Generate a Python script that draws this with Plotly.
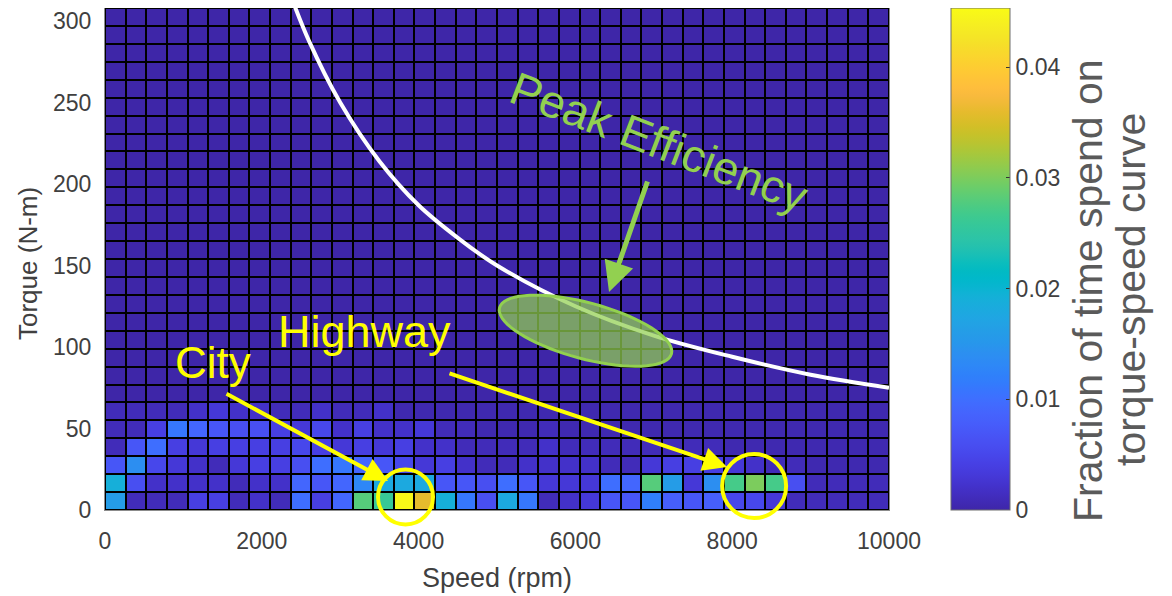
import numpy as np
import plotly.graph_objects as go

# ---------------- data ----------------
speed_edges = np.linspace(0, 10000, 39)      # 38 speed bins (rpm)
torque_edges = np.arange(0, 309, 11)         # 28 torque bins (N-m)

# fraction of time per cell, bottom rows (0-11, 11-22, ... N-m)
row0 = [0.016, 0.001, 0.001, 0.001, 0.004, 0.004, 0.001, 0.002, 0.001, 0.010,
        0.004, 0.009, 0.028, 0.026, 0.045, 0.036, 0.019, 0.011, 0.006, 0.018,
        0.011, 0.001, 0.002, 0.003, 0.007, 0.007, 0.012, 0.008, 0.007, 0.008,
        0.005, 0.005, 0.003, 0.001, 0.001, 0.001, 0.001, 0.001]
row1 = [0.019, 0.006, 0.002, 0.002, 0.002, 0.002, 0.001, 0.002, 0.002, 0.009,
        0.007, 0.009, 0.013, 0.018, 0.018, 0.018, 0.007, 0.007, 0.006, 0.010,
        0.007, 0.003, 0.003, 0.003, 0.010, 0.009, 0.028, 0.016, 0.003, 0.014,
        0.027, 0.030, 0.027, 0.006, 0.001, 0.001, 0.001, 0.001]
row2 = [0.007, 0.014, 0.005, 0.003, 0.002, 0.001, 0.003, 0.004, 0.004, 0.006,
        0.010, 0.011, 0.009, 0.007, 0.005, 0.003, 0.004, 0.002, 0.001, 0.001,
        0.002, 0.002, 0.002, 0.002, 0.001, 0.001, 0.003, 0.004, 0.004, 0.004,
        0.003, 0.002, 0.001, 0.001, 0.0005, 0.0005, 0.0005, 0.0005]
row3 = [0.001, 0.007, 0.010, 0.004, 0.003, 0.004, 0.004, 0.004, 0.004, 0.005,
        0.004, 0.003, 0.004, 0.003, 0.004, 0.002, 0.002, 0.001, 0.001, 0.001,
        0.001, 0.002, 0.001, 0.001, 0.001, 0.001, 0.001, 0.001, 0.001, 0.001,
        0.0005, 0.0005, 0.0005, 0.0005, 0.0005, 0.0005, 0.0005, 0.0005]
row4 = [0.001, 0.001, 0.004, 0.011, 0.009, 0.007, 0.006, 0.006, 0.004, 0.003,
        0.005, 0.002, 0.004, 0.002, 0.002, 0.003, 0.001, 0.001, 0.0005, 0.0005,
        0.0005, 0.001, 0.0005, 0.0005, 0.0005, 0.0005, 0.0005, 0.0005, 0.0005, 0.0005,
        0.0005, 0.0005, 0.0005, 0.0005, 0.0005, 0.0005, 0.0005, 0.0005]
row5 = [0.001, 0.001, 0.001, 0.001, 0.002, 0.003, 0.002, 0.002, 0.001, 0.001,
        0.002, 0.001, 0.001, 0.002, 0.0005, 0.0005, 0.0005, 0.0005, 0.0005, 0.0005,
        0.0005, 0.0005, 0.0005, 0.0005, 0.0005, 0.0005, 0.0005, 0.0005, 0.0005, 0.0005,
        0.0005, 0.0005, 0.0005, 0.0005, 0.0005, 0.0005, 0.0005, 0.0005]
upper_rows = [[0.0] * 38 for _ in range(22)]   # 66-308 N-m: essentially zero

# torque-speed limit curve
curve_speed = [2350, 2600, 3000, 3500, 4000, 4500, 5000, 6000, 7000, 8000, 9000, 10000]
curve_torque = [318, 288, 250, 214, 187, 167, 150, 125, 107, 94, 83, 75]

cb_ticks = [0, 0.01, 0.02, 0.03, 0.04]
cb_ticktext = ["0", "0.01", "0.02", "0.03", "0.04"]
x_ticks = [0, 2000, 4000, 6000, 8000, 10000]
y_ticks = [0, 50, 100, 150, 200, 250, 300]

# ---------------- style ----------------
parula = [
    (0.2422, 0.1504, 0.6603), (0.2504, 0.1650, 0.7076), (0.2578, 0.1818, 0.7511), (0.2647, 0.1978, 0.7952),
    (0.2706, 0.2147, 0.8364), (0.2751, 0.2342, 0.8710), (0.2783, 0.2559, 0.8991), (0.2803, 0.2782, 0.9221),
    (0.2813, 0.3006, 0.9414), (0.2810, 0.3228, 0.9579), (0.2795, 0.3447, 0.9717), (0.2760, 0.3667, 0.9829),
    (0.2699, 0.3892, 0.9906), (0.2602, 0.4123, 0.9952), (0.2440, 0.4358, 0.9988), (0.2206, 0.4603, 0.9973),
    (0.1963, 0.4847, 0.9892), (0.1834, 0.5074, 0.9798), (0.1786, 0.5289, 0.9682), (0.1764, 0.5499, 0.9520),
    (0.1687, 0.5703, 0.9359), (0.1540, 0.5902, 0.9218), (0.1460, 0.6091, 0.9079), (0.1380, 0.6276, 0.8973),
    (0.1248, 0.6459, 0.8883), (0.1113, 0.6635, 0.8763), (0.0952, 0.6798, 0.8598), (0.0689, 0.6948, 0.8394),
    (0.0297, 0.7082, 0.8163), (0.0036, 0.7203, 0.7917), (0.0067, 0.7312, 0.7660), (0.0433, 0.7411, 0.7394),
    (0.0964, 0.7500, 0.7120), (0.1408, 0.7584, 0.6842), (0.1717, 0.7670, 0.6554), (0.1938, 0.7758, 0.6251),
    (0.2161, 0.7843, 0.5923), (0.2470, 0.7918, 0.5567), (0.2906, 0.7973, 0.5188), (0.3406, 0.8008, 0.4789),
    (0.3909, 0.8029, 0.4354), (0.4456, 0.8024, 0.3909), (0.5044, 0.7993, 0.3480), (0.5616, 0.7942, 0.3045),
    (0.6174, 0.7876, 0.2612), (0.6720, 0.7793, 0.2227), (0.7242, 0.7698, 0.1910), (0.7738, 0.7598, 0.1646),
    (0.8203, 0.7498, 0.1535), (0.8634, 0.7406, 0.1596), (0.9035, 0.7330, 0.1774), (0.9393, 0.7288, 0.2100),
    (0.9728, 0.7298, 0.2394), (0.9956, 0.7434, 0.2371), (0.9970, 0.7659, 0.2199), (0.9952, 0.7893, 0.2028),
    (0.9892, 0.8136, 0.1885), (0.9786, 0.8386, 0.1766), (0.9676, 0.8639, 0.1643), (0.9610, 0.8890, 0.1537),
    (0.9597, 0.9135, 0.1423), (0.9628, 0.9373, 0.1265), (0.9691, 0.9606, 0.1064), (0.9769, 0.9839, 0.0805),
]
colorscale = [[i / (len(parula) - 1), "rgb(%d,%d,%d)" % tuple(int(round(c * 255)) for c in p)]
              for i, p in enumerate(parula)]

FONT = "Liberation Sans, Arial, Helvetica, sans-serif"
TXT = "#404040"
YELLOW = "#ffff00"
GREEN = "#92d050"

# the page body adds an 8 px margin, so the figure is offset by 8 px on screen
OFF = 8
W, H = 1164, 588
PL_S, PT_S, PW, PH = 105, 8, 784, 502          # plot area in screen pixels
ML, MT = PL_S - OFF, PT_S - OFF
MR = W - ML - PW
MB = H - MT - PH
PB_S = PT_S + PH
XMAX, YMAX = 10000, 308

z = [row0, row1, row2, row3, row4, row5] + upper_rows


def sx_paper(px):
    return (px - PL_S) / PW


def sy_paper(py):
    return (PB_S - py) / PH


fig = go.Figure()
fig.add_trace(go.Heatmap(
    x=speed_edges, y=torque_edges, z=z,
    colorscale=colorscale, zmin=0, zmax=0.04535,
    xgap=2, ygap=2, hoverinfo="skip",
    colorbar=dict(
        x=sx_paper(951), xanchor="left", xpad=0,
        y=0.5, yanchor="middle", ypad=0, len=1.0, lenmode="fraction",
        thickness=59, outlinecolor="#6e6e6e", outlinewidth=1,
        tickvals=cb_ticks, ticktext=cb_ticktext,
        ticks="inside", ticklen=4, tickcolor="#333333",
        tickfont=dict(family=FONT, size=23, color=TXT),
    ),
))
fig.add_trace(go.Scatter(
    x=curve_speed, y=curve_torque, mode="lines",
    line=dict(color="white", width=4, shape="spline"),
    hoverinfo="skip", showlegend=False,
))


def paper(speed, torque):
    return speed / XMAX, torque / YMAX


shapes = []
# yellow circles (centre in data units, radius in pixels)
for (cs, ct), r in [((3833, 8.0), 27.5), ((8280, 14.7), 32.0)]:
    xa, ya = paper(cs, ct)
    shapes.append(dict(type="circle", xref="paper", yref="paper",
                       xsizemode="pixel", ysizemode="pixel",
                       xanchor=xa, yanchor=ya, x0=-r, x1=r, y0=-r, y1=r,
                       line=dict(color=YELLOW, width=4), layer="above"))

# green tilted ellipse (centre in data units, axes in pixels)
ell_c = (6129, 110)
a_px, b_px, theta = 89, 28, np.deg2rad(15)
cx = ell_c[0] / XMAX * PW
cy = PH - ell_c[1] / YMAX * PH
t = np.linspace(0, 2 * np.pi, 73)
ex = cx + a_px * np.cos(t) * np.cos(theta) - b_px * np.sin(t) * np.sin(theta)
ey = cy + a_px * np.cos(t) * np.sin(theta) + b_px * np.sin(t) * np.cos(theta)
xp = ex / PW
yp = (PH - ey) / PH
path = "M " + " L ".join("%.5f,%.5f" % (a, b) for a, b in zip(xp, yp)) + " Z"
shapes.append(dict(type="path", xref="paper", yref="paper", path=path,
                   fillcolor="rgba(146,208,80,0.72)",
                   line=dict(color=GREEN, width=3), layer="above"))

annotations = []
# arrows (tail -> head), in data units
for (tail, head, col, wid) in [
    ((1531, 71.8), (3610, 17.8), YELLOW, 4),
    ((4375, 84.1), (7934, 26.4), YELLOW, 4),
    ((6926, 202.5), (6429, 133.8), GREEN, 5),
]:
    annotations.append(dict(x=head[0], y=head[1], ax=tail[0], ay=tail[1],
                            xref="x", yref="y", axref="x", ayref="y",
                            text="", showarrow=True, arrowhead=2, arrowsize=1.2,
                            arrowwidth=wid, arrowcolor=col, standoff=0))

annotations += [
    dict(x=1378, y=90.8, xref="x", yref="y", text="City", showarrow=False,
         xanchor="center", yanchor="middle",
         font=dict(family=FONT, size=44, color=YELLOW)),
    dict(x=3316, y=109.8, xref="x", yref="y", text="Highway", showarrow=False,
         xanchor="center", yanchor="middle",
         font=dict(family=FONT, size=45, color=YELLOW)),
    dict(x=7060, y=225.5, xref="x", yref="y", text="Peak Efficiency", showarrow=False,
         xanchor="center", yanchor="middle", textangle=21,
         font=dict(family=FONT, size=46, color=GREEN)),
    dict(x=sx_paper(497), y=sy_paper(578), xref="paper", yref="paper",
         text="Speed (rpm)", showarrow=False, xanchor="center", yanchor="middle",
         font=dict(family=FONT, size=27, color=TXT)),
    dict(x=sx_paper(28), y=sy_paper(264), xref="paper", yref="paper",
         text="Torque (N-m)", showarrow=False, textangle=-90,
         xanchor="center", yanchor="middle",
         font=dict(family=FONT, size=26, color=TXT)),
    dict(x=sx_paper(1088), y=sy_paper(291), xref="paper", yref="paper",
         text="Fraction of time spend on", showarrow=False,
         textangle=-90, xanchor="center", yanchor="middle",
         font=dict(family=FONT, size=41, color="#5a5a5a")),
    dict(x=sx_paper(1131), y=sy_paper(290), xref="paper", yref="paper",
         text="torque-speed curve", showarrow=False,
         textangle=-90, xanchor="center", yanchor="middle",
         font=dict(family=FONT, size=41, color="#5a5a5a")),
]

fig.update_layout(
    width=W, height=H,
    margin=dict(l=ML, r=MR, t=MT, b=MB, autoexpand=False),
    paper_bgcolor="white", plot_bgcolor="black",
    showlegend=False,
    shapes=shapes, annotations=annotations,
    xaxis=dict(range=[0, XMAX], tickvals=x_ticks, ticktext=[str(v) for v in x_ticks],
               showgrid=False, zeroline=False, showline=True, mirror=True,
               linecolor="#8c8c8c", linewidth=1, ticks="", ticklabelstandoff=10,
               tickfont=dict(family=FONT, size=23, color=TXT)),
    yaxis=dict(range=[0, YMAX], tickvals=y_ticks, ticktext=[str(v) for v in y_ticks],
               showgrid=False, zeroline=False, showline=True, mirror=True,
               linecolor="#8c8c8c", linewidth=1, ticks="", ticklabelstandoff=8,
               tickfont=dict(family=FONT, size=23, color=TXT)),
)

fig.write_html("out.html")
